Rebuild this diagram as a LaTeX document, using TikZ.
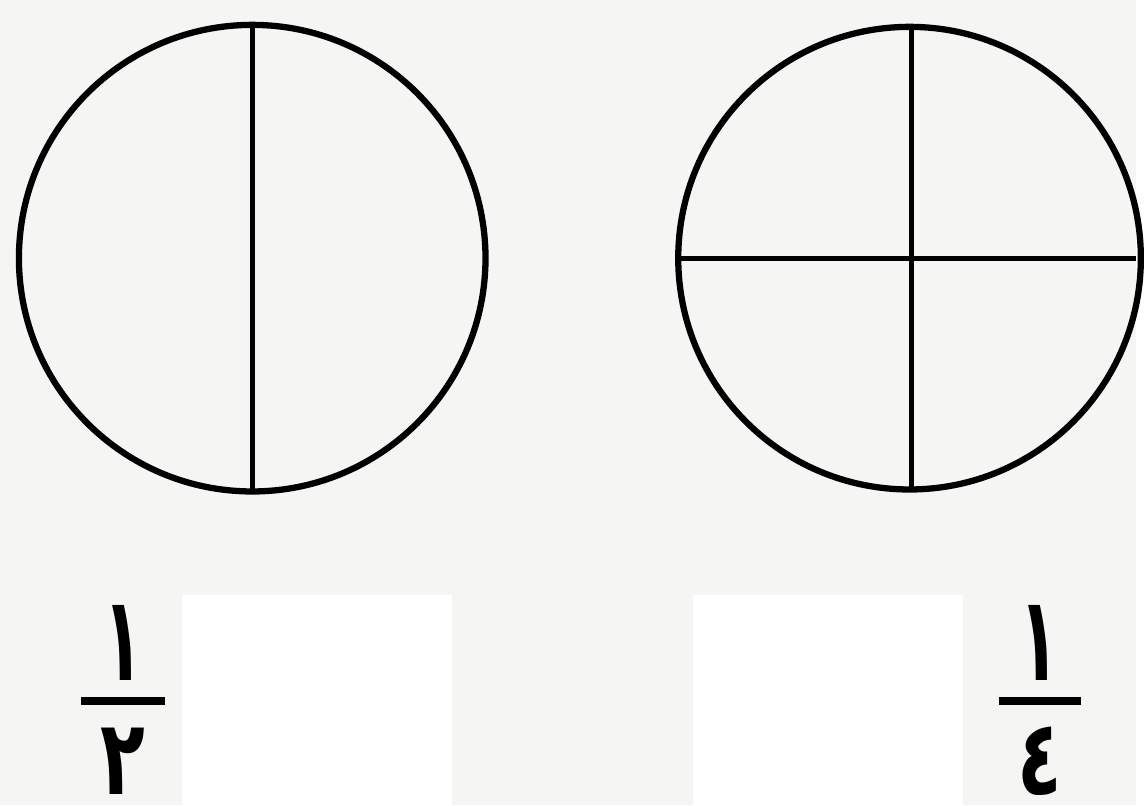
\documentclass[tikz,border=0pt]{standalone}
\usepackage{fontspec}
\usepackage{graphicx}
\newfontfamily\arabicfont[Script=Arabic]{DejaVu Sans}
\TeXXeTstate=1
\definecolor{paper}{HTML}{F5F5F3}
\newcommand{\numtall}[1]{\scalebox{0.62}[1.13]{\beginR #1\endR}}
\newcommand{\dentall}[1]{\scalebox{0.7}[1.0]{\beginR #1\endR}}

\begin{document}
\begin{tikzpicture}[x=0.02cm,y=-0.02cm,
 disc/.style={line width=3.6pt},
 cut/.style={line width=2.9pt},
 bar/.style={line width=4.6pt},
 digit/.style={anchor=base,inner sep=0pt,font=\arabicfont\bfseries\fontsize{60}{60}\selectfont},
 blank/.style={fill=white,draw=none}]
\fill[paper] (0,0) rectangle (1144,811);
% halves
\draw[disc] (254,260) circle[radius=4.7cm];
\draw[cut] (254,25) -- (254,495);
% quarters
\draw[disc] (916,260) circle[radius=4.66cm];
\draw[cut] (918,25) -- (918,495) (683,260) -- (1144,260);
% answer boxes
\fill[blank] (183,599) rectangle (455,811);
\fill[blank] (698,599) rectangle (970,811);
% fractions
\node[digit] (num1) at (124,685) {\numtall{١}};
\node[digit] (den1) at (124,800) {\dentall{٢}};
\draw[bar] (82,706) -- (166,706);
\node[digit] (num2) at (1047,685) {\numtall{١}};
\node[digit] (den2) at (1047,800) {\dentall{٤}};
\draw[bar] (1006,706) -- (1089,706);
\end{tikzpicture}
\end{document}
